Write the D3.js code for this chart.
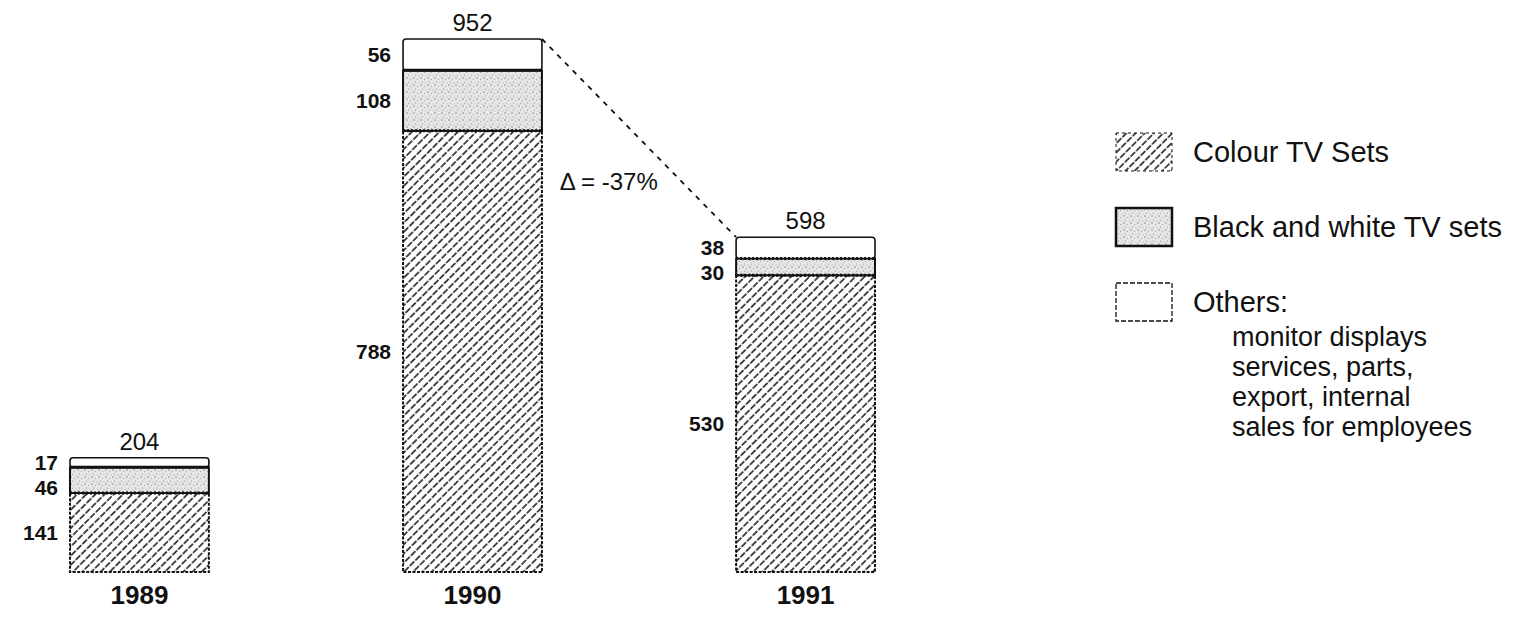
<!DOCTYPE html>
<html>
<head>
<meta charset="utf-8">
<script src="https://cdn.jsdelivr.net/npm/d3@7"></script>
<style>
  body { margin: 0; background: #fff; }
  text { font-family: "Liberation Sans", Arial, Helvetica, sans-serif; fill: #111; }
</style>
</head>
<body>
<svg id="chart"></svg>
<script>
const width = 1527;
const height = 620;

// values
const years = ['1989', '1990', '1991'];
const colourTV = [141, 788, 530];
const bwTV = [46, 108, 30];
const others = [17, 56, 38];

const keys = ['colour', 'bw', 'others'];
const legendLabels = ['Colour TV Sets', 'Black and white TV sets', 'Others:'];
const othersDetail = ['monitor displays', 'services, parts,', 'export, internal', 'sales for employees'];

const rows = years.map((yr, i) => ({year: yr, colour: colourTV[i], bw: bwTV[i], others: others[i]}));
const totals = rows.map(r => d3.sum(keys, k => r[k]));

const svg = d3.select('#chart')
    .attr('width', width)
    .attr('height', height);

const x = d3.scaleBand().domain(years).range([70, 875]).paddingInner(0.583).paddingOuter(0);
const y = d3.scaleLinear().domain([0, d3.max(totals)]).range([572, 39]);

// patterns
const defs = svg.append('defs');

const hatch = defs.append('pattern')
    .attr('id', 'hatch')
    .attr('patternUnits', 'userSpaceOnUse')
    .attr('width', 6.5).attr('height', 8)
    .attr('patternTransform', 'rotate(45)');
hatch.append('rect').attr('width', 6.5).attr('height', 8).attr('fill', '#fff');
hatch.append('line')
    .attr('x1', 1).attr('y1', 0).attr('x2', 1).attr('y2', 8)
    .attr('stroke', '#111').attr('stroke-width', 1.5)
    .attr('stroke-dasharray', '6.5,1.5');

const stipple = defs.append('pattern')
    .attr('id', 'stipple')
    .attr('patternUnits', 'userSpaceOnUse')
    .attr('width', 7).attr('height', 7);
stipple.append('rect').attr('width', 7).attr('height', 7).attr('fill', '#e6e6e6');
[[1, 1, 0.7, '#777'], [4.5, 2.5, 0.6, '#999'], [2.5, 5, 0.6, '#888'], [6, 6, 0.5, '#aaa']].forEach(([cx, cy, r, c]) => {
    stipple.append('circle').attr('cx', cx).attr('cy', cy).attr('r', r).attr('fill', c);
});

const fills = {colour: 'url(#hatch)', bw: 'url(#stipple)', others: '#fff'};

const stacked = d3.stack().keys(keys)(rows);

// segments
const layer = svg.append('g').selectAll('g')
    .data(stacked).enter().append('g')
    .attr('fill', s => fills[s.key]);

layer.selectAll('rect')
    .data(s => s.map(d => Object.assign(d, {key: s.key})))
    .enter().append('rect')
    .attr('x', d => x(d.data.year))
    .attr('y', d => y(d[1]))
    .attr('width', x.bandwidth())
    .attr('height', d => y(d[0]) - y(d[1]))
    .attr('stroke', '#111')
    .attr('stroke-width', d => d.key === 'others' ? 1.6 : 2)
    .attr('stroke-dasharray', d => d.key === 'colour' ? '3,1.5' : null)
    .attr('rx', d => d.key === 'others' ? 3 : 0);

// boundaries between segments
const bounds = svg.append('g');
rows.forEach((r, i) => {
    const x0 = x(r.year), x1 = x0 + x.bandwidth();
    const yb = y(r.colour + r.bw);
    const yc = y(r.colour);
    bounds.append('line')
        .attr('x1', x0).attr('x2', x1).attr('y1', yb).attr('y2', yb)
        .attr('stroke', '#111')
        .attr('stroke-width', 3)
        .attr('stroke-dasharray', i === 2 ? '2,2' : null);
    bounds.append('line')
        .attr('x1', x0).attr('x2', x1).attr('y1', yc).attr('y2', yc)
        .attr('stroke', '#111').attr('stroke-width', 3)
        .attr('stroke-dasharray', '2,2');
});

// segment value labels (left of each bar, pushed apart if crowded)
const segLabels = svg.append('g')
    .attr('font-weight', 'bold')
    .attr('font-size', 21)
    .attr('text-anchor', 'end');
rows.forEach(r => {
    let prev = -Infinity;
    let base = d3.sum(keys, k => r[k]);
    ['others', 'bw', 'colour'].forEach(k => {
        const mid = y(base - r[k] / 2);
        const pos = Math.max(mid, prev + 25);
        segLabels.append('text')
            .attr('x', x(r.year) - 12)
            .attr('y', pos)
            .attr('dy', '0.36em')
            .text(r[k]);
        prev = pos;
        base -= r[k];
    });
});

// totals above bars
svg.append('g').selectAll('text')
    .data(rows).enter().append('text')
    .attr('x', (r, i) => x(r.year) + x.bandwidth() / 2)
    .attr('y', (r, i) => y(totals[i]) - 8)
    .attr('text-anchor', 'middle')
    .attr('font-size', 24)
    .text((r, i) => totals[i]);

// year labels
svg.append('g').selectAll('text')
    .data(years).enter().append('text')
    .attr('x', yr => x(yr) + x.bandwidth() / 2)
    .attr('y', 604)
    .attr('text-anchor', 'middle')
    .attr('font-weight', 'bold')
    .attr('font-size', 26)
    .text(yr => yr);

// dashed connector 1990 -> 1991 with the change
const xa = x(years[1]) + x.bandwidth(), ya = y(totals[1]);
const xb = x(years[2]), yb = y(totals[2]);
svg.append('line')
    .attr('x1', xa).attr('y1', ya).attr('x2', xb).attr('y2', yb)
    .attr('stroke', '#111').attr('stroke-width', 1.8)
    .attr('stroke-dasharray', '5,6');

const change = Math.round((totals[2] - totals[1]) / totals[1] * 100);
const t = 0.72;
svg.append('text')
    .attr('x', xa + t * (xb - xa) - 24)
    .attr('y', ya + t * (yb - ya))
    .attr('dy', '0.36em')
    .attr('text-anchor', 'end')
    .attr('font-size', 24)
    .text(`Δ = ${change}%`);

// legend
const legend = svg.append('g').attr('transform', 'translate(1116, 133)');
const swatchStyle = [
    {fill: 'url(#hatch)', stroke: '#111', width: 1, dash: '3,3'},
    {fill: 'url(#stipple)', stroke: '#111', width: 2.5, dash: null},
    {fill: '#fff', stroke: '#111', width: 1.3, dash: '5,2'}
];
legendLabels.forEach((lab, i) => {
    const g = legend.append('g').attr('transform', `translate(0, ${i * 75})`);
    g.append('rect')
        .attr('width', 56).attr('height', 38)
        .attr('fill', swatchStyle[i].fill)
        .attr('stroke', swatchStyle[i].stroke)
        .attr('stroke-width', swatchStyle[i].width)
        .attr('stroke-dasharray', swatchStyle[i].dash);
    g.append('text')
        .attr('x', 77)
        .attr('y', 19)
        .attr('dy', '0.36em')
        .attr('font-size', 29)
        .text(lab);
});
legend.append('g').selectAll('text')
    .data(othersDetail).enter().append('text')
    .attr('x', 116)
    .attr('y', (d, i) => 2 * 75 + 63 + i * 30)
    .attr('font-size', 27)
    .text(d => d);
</script>
</body>
</html>
